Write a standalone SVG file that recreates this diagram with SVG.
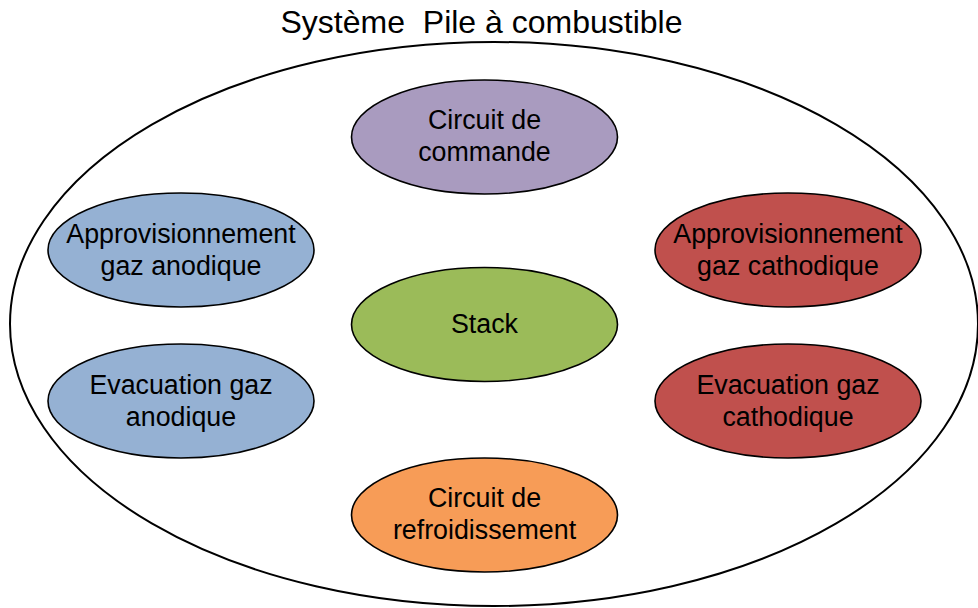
<svg xmlns="http://www.w3.org/2000/svg" width="978" height="608" viewBox="0 0 978 608">
<style>
.n{stroke:#000;stroke-width:1.6}
.t{font-family:"Liberation Sans",Arial,sans-serif;font-size:26.8px;fill:#000;text-anchor:middle}
.title{font-family:"Liberation Sans",Arial,sans-serif;font-size:32px;fill:#000;text-anchor:middle}
</style>
<rect width="978" height="608" fill="#fff"/>
<g id="systeme">
<ellipse cx="494" cy="324" rx="484" ry="282" fill="none" stroke="#000" stroke-width="2"/>
<text class="title" x="481.5" y="33" xml:space="preserve">Système  Pile à combustible</text>
</g>
<g id="connectors"></g>
<g id="commande">
<ellipse class="n" cx="484.5" cy="137" rx="133" ry="57" fill="#A99BBF"/>
<text class="t" x="484.5" y="129">Circuit de</text>
<text class="t" x="484.5" y="161">commande</text>
</g>
<g id="stack">
<ellipse class="n" cx="484.5" cy="324.5" rx="133" ry="57" fill="#9BBB59"/>
<text class="t" x="484.5" y="333">Stack</text>
</g>
<g id="refroidissement">
<ellipse class="n" cx="484.5" cy="515" rx="133" ry="57" fill="#F79C57"/>
<text class="t" x="484.5" y="507">Circuit de</text>
<text class="t" x="484.5" y="539">refroidissement</text>
</g>
<g id="appro-anodique">
<ellipse class="n" cx="181" cy="250" rx="133" ry="57" fill="#95B1D3"/>
<text class="t" x="181" y="243">Approvisionnement</text>
<text class="t" x="181" y="275">gaz anodique</text>
</g>
<g id="evac-anodique">
<ellipse class="n" cx="181" cy="401" rx="133" ry="57" fill="#95B1D3"/>
<text class="t" x="181" y="394">Evacuation gaz</text>
<text class="t" x="181" y="426">anodique</text>
</g>
<g id="appro-cathodique">
<ellipse class="n" cx="788" cy="250" rx="133" ry="57" fill="#C0504D"/>
<text class="t" x="788" y="243">Approvisionnement</text>
<text class="t" x="788" y="275">gaz cathodique</text>
</g>
<g id="evac-cathodique">
<ellipse class="n" cx="788" cy="401" rx="133" ry="57" fill="#C0504D"/>
<text class="t" x="788" y="394">Evacuation gaz</text>
<text class="t" x="788" y="426">cathodique</text>
</g>
</svg>
